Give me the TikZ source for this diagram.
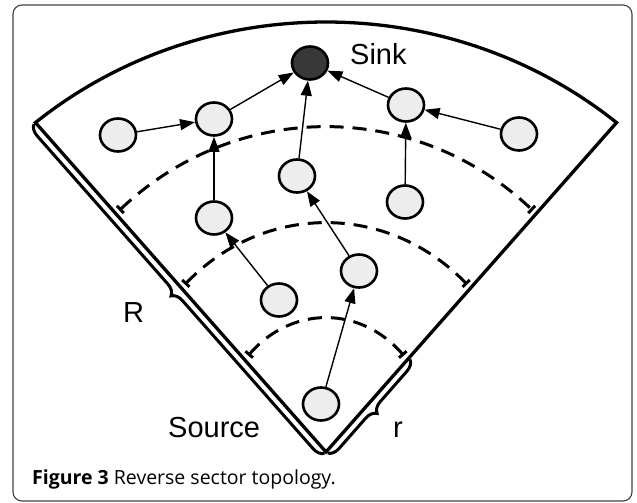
\documentclass[tikz,border=0pt]{standalone}
\usepackage{fontspec}
\setmainfont{Liberation Sans}
\newfontfamily\capfont{Open Sans}
\usetikzlibrary{arrows.meta,decorations.pathreplacing,shapes.geometric}

\begin{document}
\begin{tikzpicture}[x=1pt,y=1pt,
    vertex/.style={draw,ellipse,line width=2.6pt,fill=black!7,minimum width=36pt,minimum height=33pt,inner sep=0pt},
    hop/.style={-{Triangle[length=15pt,width=11pt]},line width=1.4pt},
    ring/.style={dash pattern=on 14pt off 9pt,line width=3pt,{Bar[width=10pt]}-{Bar[width=10pt]}},
    span/.style={decorate,decoration={brace,amplitude=11pt,raise=2pt},line width=3pt}]
    \tikzstyle{every node}+=[inner sep=0pt,font=\fontsize{29}{29}\selectfont]
    \useasboundingbox (-326,-51) rectangle (311,452);
    \draw [black!75,line width=1.1pt,rounded corners=9pt] (-313,-49) rectangle (306,447);
    \draw [line width=3.3pt,line join=miter] (0,0) -- (130:452 and 430) arc [start angle=130,end angle=50,x radius=452,y radius=430] -- cycle;
    \draw [ring] (132:309 and 325) arc [start angle=132,end angle=48,x radius=309,y radius=325];
    \draw [ring] (133:207 and 229) arc [start angle=133,end angle=47,x radius=207,y radius=229];
    \draw [ring] (134:112 and 134) arc [start angle=134,end angle=46,x radius=112,y radius=134];
    \draw [span] (0,0) -- (130:452 and 430);
    \draw [span] (48.7:125) -- (0,0);
    \node [vertex,fill=black!78] (sink) at (-16,389) {};
    \node [vertex] (n1) at (-208,317) {};
    \node [vertex] (n2) at (-112,333) {};
    \node [vertex] (n3) at (80,347) {};
    \node [vertex] (n4) at (193,318) {};
    \node [vertex] (n5) at (-29,276) {};
    \node [vertex] (n6) at (79,250) {};
    \node [vertex] (n7) at (-112,234) {};
    \node [vertex] (n8) at (33,181) {};
    \node [vertex] (n9) at (-47,152) {};
    \node [vertex] (src) at (-5,48) {};
    \draw [hop] (n1) -- (n2);
    \draw [hop] (n2) -- (sink);
    \draw [hop] (n7) -- (n2);
    \draw [hop] (n9) -- (n7);
    \draw [hop] (n5) -- (sink);
    \draw [hop] (n8) -- (n5);
    \draw [hop] (src) -- (n8);
    \draw [hop] (n6) -- (n3);
    \draw [hop] (n4) -- (n3);
    \draw [hop] (n3) -- (sink);
    \node [anchor=base west] (sinklbl) at (24,387) {Sink};
    \node [anchor=base west] (srclbl) at (-158,14) {Source};
    \node [anchor=base west] (biglbl) at (-203,129) {R};
    \node [anchor=base west] (smalllbl) at (67,14) {r};
    \node [anchor=base west,font=\capfont\fontsize{19.5}{19.5}\selectfont] (cap) at (-294,-33) {\textbf{Figure 3} Reverse sector topology.};
\end{tikzpicture}
\end{document}
